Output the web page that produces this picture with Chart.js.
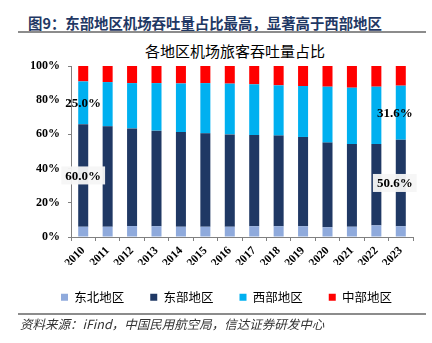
<!DOCTYPE html>
<html>
<head>
<meta charset="utf-8">
<script src="https://cdn.jsdelivr.net/npm/chart.js@4"></script>
<style>
  body { margin: 0; background: #fff; }
  #wrap { position: relative; width: 432px; height: 343px; overflow: hidden; }
  #myChart { position: absolute; left: 0; top: 0; }
  .head { position: absolute; left: 28px; top: 12px; font: bold 14.4px "Noto Sans CJK SC"; color: #1F3864; white-space: nowrap; }
  .rule { position: absolute; left: 18px; width: 408px; height: 2px; background: #8c8c8c; }
  .ctitle { position: absolute; left: 145px; top: 40px; font: 15px "Noto Sans CJK SC"; color: #000; white-space: nowrap; }
  .src { position: absolute; left: 20px; top: 314px; font: italic 12.5px "Noto Sans CJK SC"; color: #333; white-space: nowrap; }
</style>
</head>
<body>
<div id="wrap">
  <div class="head">图9：东部地区机场吞吐量占比最高，显著高于西部地区</div>
  <div class="rule" style="top:31px"></div>
  <div class="ctitle">各地区机场旅客吞吐量占比</div>
  <canvas id="myChart" width="432" height="343"></canvas>
  <div class="rule" style="top:313px"></div>
  <div class="src">资料来源：iFind，中国民用航空局，信达证券研发中心</div>
</div>
<script>
// Years and regional share of passenger throughput (%)
var years = ['2010', '2011', '2012', '2013', '2014', '2015', '2016', '2017', '2018', '2019', '2020', '2021', '2022', '2023'];
var northeast = [6.0, 6.0, 6.4, 6.3, 6.0, 6.0, 6.0, 6.3, 6.3, 6.3, 5.7, 6.0, 6.8, 6.3];
var east = [60.0, 58.7, 57.1, 55.9, 55.4, 54.6, 54.0, 53.3, 53.0, 52.2, 49.5, 48.4, 47.6, 50.6];
var west = [25.0, 25.9, 26.5, 27.8, 28.4, 29.4, 29.7, 29.7, 29.4, 29.8, 32.7, 32.9, 33.5, 31.6];
var central = [9.0, 9.4, 10.0, 10.0, 10.2, 10.0, 10.3, 10.7, 11.3, 11.7, 12.1, 12.7, 12.1, 11.5];
var yTicks = [0, 10, 20, 30, 40, 50, 60, 70, 80, 90, 100];

// which segments get a value label: [dataset, index, with box]
var shownLabels = [[2, 0, false], [1, 0, true], [2, 13, false], [1, 13, true]];

var serif = '"Liberation Serif", "Times New Roman", serif';
var axisColor = '#808080';

// Draw the few value labels on the bars
var valueLabels = {
  id: 'valueLabels',
  afterDatasetsDraw(chart) {
    const ctx = chart.ctx;
    ctx.save();
    ctx.font = 'bold 13px ' + serif;
    ctx.textAlign = 'center';
    ctx.textBaseline = 'middle';
    shownLabels.forEach(([ds, i, boxed]) => {
      const bar = chart.getDatasetMeta(ds).data[i];
      const value = chart.data.datasets[ds].data[i];
      const text = value.toFixed(1) + '%';
      const x = bar.x + (i === years.length - 1 ? -6 : 0);
      const y = (bar.y + bar.base) / 2;
      if (boxed) {
        const w = ctx.measureText(text).width + 8;
        ctx.fillStyle = 'rgba(245,245,245,0.95)';
        ctx.fillRect(x - w / 2, y - 9, w, 18);
      }
      ctx.fillStyle = '#000';
      ctx.fillText(text, x, y + 1);
    });
    ctx.restore();
  }
};

const ctx = document.getElementById('myChart');
var myChart = new Chart(ctx, {
  type: 'bar',
  data: {
    labels: years,
    datasets: [
      { label: '东北地区', data: northeast, backgroundColor: '#8FAADC' },
      { label: '东部地区', data: east, backgroundColor: '#1F3864' },
      { label: '西部地区', data: west, backgroundColor: '#00B0F0' },
      { label: '中部地区', data: central, backgroundColor: '#FF0000' },
    ]
  },
  options: {
    responsive: false,
    animation: false,
    layout: { padding: { top: 66, left: 31, right: 10, bottom: 29.5 } },
    datasets: { bar: { categoryPercentage: 1, barPercentage: 0.41 } },
    scales: {
      x: {
        stacked: true,
        afterFit: (scale) => { scale.height = 28; },
        grid: { offset: true, drawOnChartArea: false, tickLength: 4, color: axisColor },
        border: { color: axisColor },
        ticks: {
          minRotation: 45, maxRotation: 45, padding: 3,
          color: '#000', font: { family: serif, size: 11.5, weight: 'bold' }
        }
      },
      y: {
        stacked: true,
        min: 0, max: 100,
        afterFit: (scale) => { scale.width = 40; },
        afterBuildTicks: (scale) => { scale.ticks = yTicks.map(v => ({ value: v })); },
        grid: { drawOnChartArea: false, tickLength: 3, color: axisColor },
        border: { color: axisColor },
        ticks: {
          padding: 8,
          color: '#000',
          font: { family: serif, size: 12, weight: 'bold' },
          callback: (v) => v + '%'
        }
      },
      // empty spacer on the right so the legend row has room
      spacer: {
        position: 'right',
        afterFit: (scale) => { scale.width = 9; },
        grid: { display: false },
        border: { display: false },
        ticks: { display: false }
      }
    },
    plugins: {
      title: { display: false },
      tooltip: { enabled: false },
      legend: {
        position: 'bottom',
        labels: {
          boxWidth: 7, boxHeight: 7, padding: 26,
          color: '#000',
          font: { family: '"Noto Sans CJK SC"', size: 12.5 }
        }
      }
    }
  },
  plugins: [valueLabels]
});
</script>
</body>
</html>
